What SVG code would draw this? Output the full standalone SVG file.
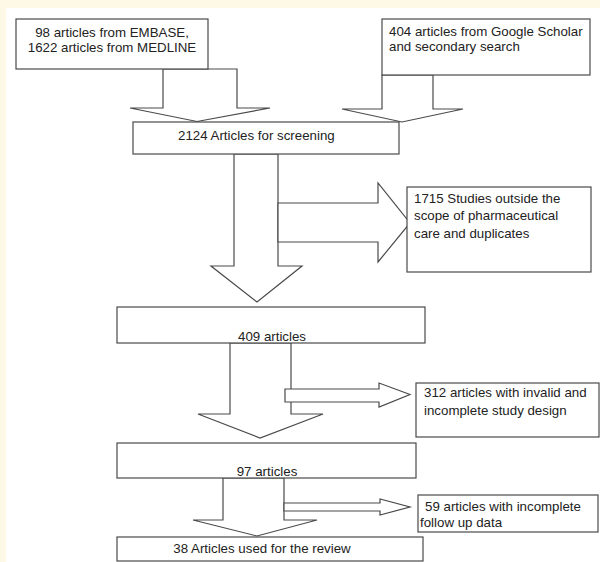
<svg xmlns="http://www.w3.org/2000/svg" width="600" height="562" viewBox="0 0 600 562">
<style>
.bg{fill:#fef9e6}
.box{fill:#ffffff;stroke:#4a4a4a;stroke-width:1.2}
.arr{fill:#ffffff;stroke:#4a4a4a;stroke-width:1.2;stroke-linejoin:miter}
text{font-family:"Liberation Sans",Arial,sans-serif;font-size:13.3px;fill:#222222}
.c{text-anchor:middle}
</style>
<rect x="0" y="0" width="600" height="562" class="bg"/>
<rect x="6" y="8" width="594" height="554" fill="#ffffff"/>
<g id="connectors">
<polygon class="arr" points="163,69 237,69 237,108 270,108 197,121.5 130,108 163,108"/>
<polygon class="arr" points="382,75 433,75 433,109 463,109 402,122 342,109 382,109"/>
<polygon class="arr" points="234,154 278,154 278,266 302,266 257,302 211,266 234,266"/>
<polygon class="arr" points="278,203 378,203 378,183 410,223 378,262 378,242 278,242"/>
<polygon class="arr" points="230,343 291,343 291,414 323,414 260,438 198,414 230,414"/>
<polygon class="arr" points="285,389 379,389 379,383 410,394.5 379,407 379,402 285,402"/>
<polygon class="arr" points="223,478 284,478 284,520 317,520 257,536 193,520 223,520"/>
<polygon class="arr" points="284,503 380,503 380,499 410,507 380,515 380,511 284,511"/>
</g>
<g id="n1">
<rect class="box" x="16" y="19" width="192" height="50"/>
<text class="c" x="112" y="37">98 articles from EMBASE,</text>
<text class="c" x="112" y="52">1622 articles from MEDLINE</text>
</g>
<g id="n2">
<rect class="box" x="382" y="19" width="208" height="56"/>
<text x="389" y="36">404 articles from Google Scholar</text>
<text x="389" y="51">and secondary search</text>
</g>
<g id="n3">
<rect class="box" x="133" y="122" width="266" height="32"/>
<text x="178" y="140">2124 Articles for screening</text>
</g>
<g id="n4">
<rect class="box" x="407" y="187" width="184" height="85"/>
<text x="414" y="203">1715 Studies outside the</text>
<text x="414" y="220">scope of pharmaceutical</text>
<text x="414" y="238">care and duplicates</text>
</g>
<g id="n5">
<rect class="box" x="117" y="307" width="308" height="36"/>
<text class="c" x="272" y="341">409 articles</text>
</g>
<g id="n6">
<rect class="box" x="416" y="383" width="183" height="54"/>
<text x="424" y="397">312 articles with invalid and</text>
<text x="424" y="415">incomplete study design</text>
</g>
<g id="n7">
<rect class="box" x="117" y="443" width="299" height="35"/>
<text class="c" x="267" y="476">97 articles</text>
</g>
<g id="n8">
<rect class="box" x="418" y="495" width="180" height="37"/>
<text x="425" y="511">59 articles with incomplete</text>
<text x="420" y="527">follow up data</text>
</g>
<g id="n9">
<rect class="box" x="117" y="537" width="306" height="24"/>
<text class="c" x="262" y="553">38 Articles used for the review</text>
</g>
</svg>
